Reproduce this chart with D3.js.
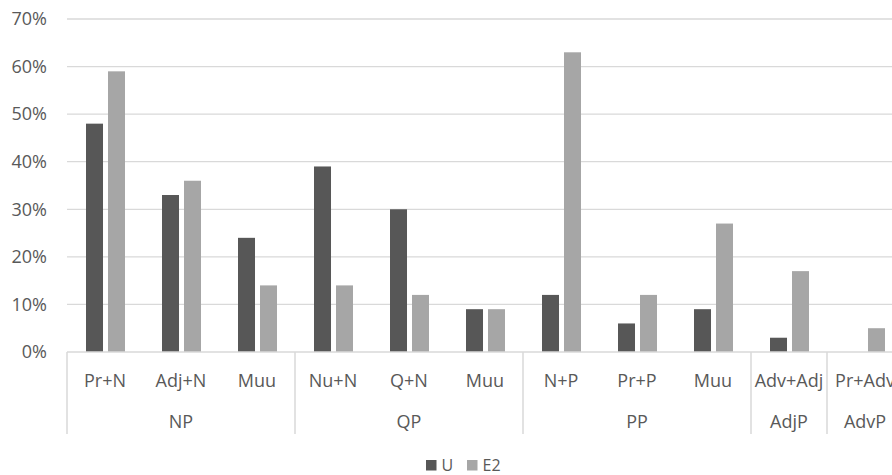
<!DOCTYPE html>
<html>
<head>
<meta charset="utf-8">
<script src="https://cdn.jsdelivr.net/npm/d3@7"></script>
<style>
  html, body { margin: 0; padding: 0; background: #fff; }
  svg { display: block; font-family: "Open Sans", sans-serif; }
</style>
</head>
<body>
<svg id="chart" width="892" height="475"></svg>
<script>
// Phrase-type categories, grouped by phrase
const categories = ["Pr+N", "Adj+N", "Muu", "Nu+N", "Q+N", "Muu", "N+P", "Pr+P", "Muu", "Adv+Adj", "Pr+Adv"];
const groups = ["NP", "QP", "PP", "AdjP", "AdvP"];
const groupSizes = [3, 3, 3, 1, 1];
const seriesNames = ["U", "E2"];
const valuesU = [0.48, 0.33, 0.24, 0.39, 0.30, 0.09, 0.12, 0.06, 0.09, 0.03, 0.00];
const valuesE2 = [0.59, 0.36, 0.14, 0.14, 0.12, 0.09, 0.63, 0.12, 0.27, 0.17, 0.05];
const yTicks = [0, 0.1, 0.2, 0.3, 0.4, 0.5, 0.6, 0.7];
const colors = { U: "#575757", E2: "#a6a6a6" };

const svg = d3.select("#chart");
const plotLeft = 67, plotRight = 903, plotTop = 19, plotBottom = 352;

const idx = categories.map((_, i) => i);
const x = d3.scaleBand().domain(idx).range([plotLeft, plotRight]).padding(0);
const xInner = d3.scaleBand().domain(seriesNames).range([19, 58]).paddingInner(0.227).paddingOuter(0);
const y = d3.scaleLinear().domain([0, 0.7]).range([plotBottom, plotTop]);

const gridColor = "#d9d9d9";
const textColor = "#595959";
const labelSize = 18;

// Horizontal gridlines
svg.append("g").selectAll("line")
  .data(yTicks.filter(t => t > 0))
  .join("line")
  .attr("x1", plotLeft).attr("x2", 892)
  .attr("y1", d => y(d)).attr("y2", d => y(d))
  .attr("stroke", gridColor).attr("stroke-width", 1.3);

// Y axis labels
const yAxis = d3.axisLeft(y).tickValues(yTicks).tickFormat(d3.format(".0%")).tickSize(0).tickPadding(20);
const gy = svg.append("g").attr("transform", `translate(${plotLeft},0)`).call(yAxis);
gy.select(".domain").remove();
gy.selectAll("text").attr("fill", textColor).attr("font-size", labelSize).attr("font-family", "Open Sans, sans-serif");

// Bars
const rows = categories.map((c, i) => ({ i, U: valuesU[i], E2: valuesE2[i] }));
const barG = svg.append("g");
rows.forEach(r => {
  seriesNames.forEach(s => {
    if (r[s] <= 0) return;
    barG.append("rect")
      .attr("x", x(r.i) + xInner(s))
      .attr("y", y(r[s]))
      .attr("width", xInner.bandwidth())
      .attr("height", y(0) - y(r[s]))
      .attr("fill", colors[s]);
  });
});

// Category axis (baseline + category labels)
svg.append("line")
  .attr("x1", plotLeft).attr("x2", 892).attr("y1", plotBottom).attr("y2", plotBottom)
  .attr("stroke", gridColor).attr("stroke-width", 1.5);

svg.append("g").selectAll("text")
  .data(idx)
  .join("text")
  .attr("x", d => x(d) + x.bandwidth() / 2)
  .attr("y", 386.5)
  .attr("text-anchor", "middle")
  .attr("fill", textColor)
  .attr("font-size", labelSize)
  .text(d => categories[d]);

// Group dividers and group labels
let acc = 0;
const bounds = [0];
groupSizes.forEach(n => { acc += n; bounds.push(acc); });
const boundX = b => b < idx.length ? x(b) : plotRight;

svg.append("g").selectAll("line")
  .data(bounds)
  .join("line")
  .attr("x1", boundX).attr("x2", boundX)
  .attr("y1", plotBottom).attr("y2", 434)
  .attr("stroke", gridColor).attr("stroke-width", 1.5);

svg.append("g").selectAll("text")
  .data(groups)
  .join("text")
  .attr("x", (g, k) => (boundX(bounds[k]) + boundX(bounds[k + 1])) / 2)
  .attr("y", 427.5)
  .attr("text-anchor", "middle")
  .attr("fill", textColor)
  .attr("font-size", labelSize)
  .text(d => d);

// Legend
const legend = svg.append("g");
const legendItems = [{ name: "U", x: 426 }, { name: "E2", x: 467 }];
legendItems.forEach(it => {
  legend.append("rect").attr("x", it.x).attr("y", 460).attr("width", 10.5).attr("height", 10.5).attr("fill", colors[it.name]);
  legend.append("text").attr("x", it.x + 15.5).attr("y", 471).attr("fill", textColor).attr("font-size", 16).text(it.name);
});
</script>
</body>
</html>
